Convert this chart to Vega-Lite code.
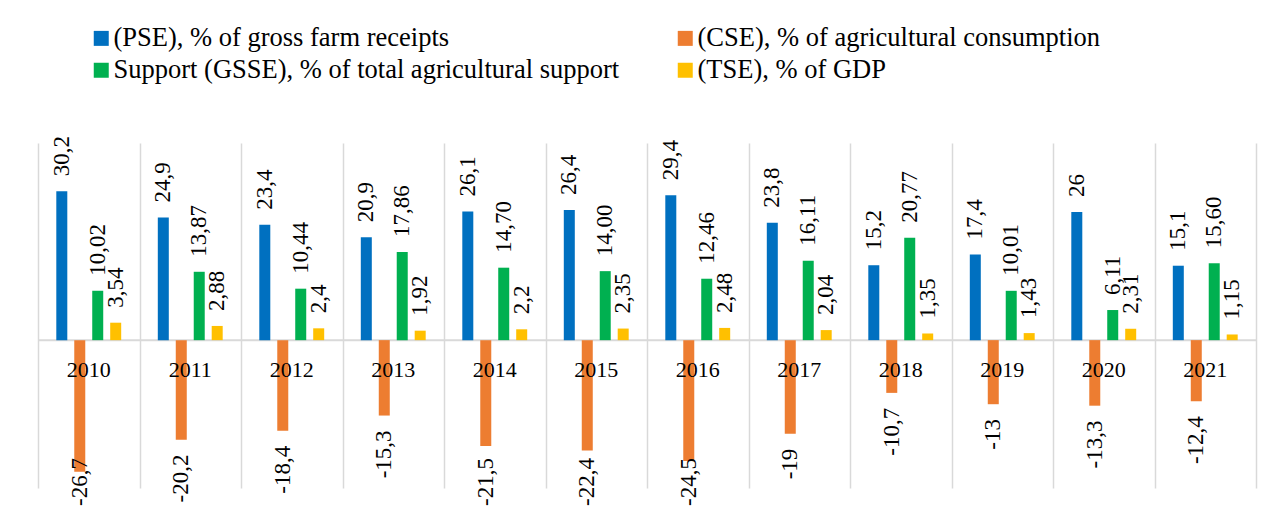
{
  "$schema": "https://vega.github.io/schema/vega-lite/v6.json",
  "width": 1218,
  "height": 345,
  "autosize": {"type": "none"},
  "padding": {"left": 38, "top": 143, "right": 23, "bottom": 24},
  "background": "white",
  "config": {"view": {"stroke": null}, "font": "Liberation Serif"},
  "resolve": {"scale": {"y": "independent"}},
  "datasets": {
    "main": [
      {"year": "2010", "s": "PSE", "value": 30.2, "label": "30,2"},
      {"year": "2010", "s": "CSE", "value": -26.7, "label": "-26,7"},
      {"year": "2010", "s": "GSSE", "value": 10.02, "label": "10,02"},
      {"year": "2010", "s": "TSE", "value": 3.54, "label": "3,54"},
      {"year": "2011", "s": "PSE", "value": 24.9, "label": "24,9"},
      {"year": "2011", "s": "CSE", "value": -20.2, "label": "-20,2"},
      {"year": "2011", "s": "GSSE", "value": 13.87, "label": "13,87"},
      {"year": "2011", "s": "TSE", "value": 2.88, "label": "2,88"},
      {"year": "2012", "s": "PSE", "value": 23.4, "label": "23,4"},
      {"year": "2012", "s": "CSE", "value": -18.4, "label": "-18,4"},
      {"year": "2012", "s": "GSSE", "value": 10.44, "label": "10,44"},
      {"year": "2012", "s": "TSE", "value": 2.4, "label": "2,4"},
      {"year": "2013", "s": "PSE", "value": 20.9, "label": "20,9"},
      {"year": "2013", "s": "CSE", "value": -15.3, "label": "-15,3"},
      {"year": "2013", "s": "GSSE", "value": 17.86, "label": "17,86"},
      {"year": "2013", "s": "TSE", "value": 1.92, "label": "1,92"},
      {"year": "2014", "s": "PSE", "value": 26.1, "label": "26,1"},
      {"year": "2014", "s": "CSE", "value": -21.5, "label": "-21,5"},
      {"year": "2014", "s": "GSSE", "value": 14.70, "label": "14,70"},
      {"year": "2014", "s": "TSE", "value": 2.2, "label": "2,2"},
      {"year": "2015", "s": "PSE", "value": 26.4, "label": "26,4"},
      {"year": "2015", "s": "CSE", "value": -22.4, "label": "-22,4"},
      {"year": "2015", "s": "GSSE", "value": 14.00, "label": "14,00"},
      {"year": "2015", "s": "TSE", "value": 2.35, "label": "2,35"},
      {"year": "2016", "s": "PSE", "value": 29.4, "label": "29,4"},
      {"year": "2016", "s": "CSE", "value": -24.5, "label": "-24,5"},
      {"year": "2016", "s": "GSSE", "value": 12.46, "label": "12,46"},
      {"year": "2016", "s": "TSE", "value": 2.48, "label": "2,48"},
      {"year": "2017", "s": "PSE", "value": 23.8, "label": "23,8"},
      {"year": "2017", "s": "CSE", "value": -19, "label": "-19"},
      {"year": "2017", "s": "GSSE", "value": 16.11, "label": "16,11"},
      {"year": "2017", "s": "TSE", "value": 2.04, "label": "2,04"},
      {"year": "2018", "s": "PSE", "value": 15.2, "label": "15,2"},
      {"year": "2018", "s": "CSE", "value": -10.7, "label": "-10,7"},
      {"year": "2018", "s": "GSSE", "value": 20.77, "label": "20,77"},
      {"year": "2018", "s": "TSE", "value": 1.35, "label": "1,35"},
      {"year": "2019", "s": "PSE", "value": 17.4, "label": "17,4"},
      {"year": "2019", "s": "CSE", "value": -13, "label": "-13"},
      {"year": "2019", "s": "GSSE", "value": 10.01, "label": "10,01"},
      {"year": "2019", "s": "TSE", "value": 1.43, "label": "1,43"},
      {"year": "2020", "s": "PSE", "value": 26, "label": "26"},
      {"year": "2020", "s": "CSE", "value": -13.3, "label": "-13,3"},
      {"year": "2020", "s": "GSSE", "value": 6.11, "label": "6,11"},
      {"year": "2020", "s": "TSE", "value": 2.31, "label": "2,31"},
      {"year": "2021", "s": "PSE", "value": 15.1, "label": "15,1"},
      {"year": "2021", "s": "CSE", "value": -12.4, "label": "-12,4"},
      {"year": "2021", "s": "GSSE", "value": 15.60, "label": "15,60"},
      {"year": "2021", "s": "TSE", "value": 1.15, "label": "1,15"}
    ]
  },
  "data": {"name": "main"},
  "layer": [
    {
      "data": {"values": [{"zero": 0}]},
      "mark": {"type": "rule", "color": "#d9d9d9", "strokeWidth": 2},
      "encoding": {"y": {"field": "zero", "type": "quantitative", "scale": {"domain": [-30, 40]}, "axis": null}}
    },
    {
      "mark": {"type": "bar", "width": 11},
      "encoding": {
        "x": {"field": "year", "type": "nominal", "scale": {"paddingInner": 0, "paddingOuter": 0},
              "axis": {"title": null, "labels": false, "ticks": false, "domain": false, "grid": true, "tickBand": "extent", "gridColor": "#d9d9d9", "gridWidth": 1.5}},
        "xOffset": {"field": "s", "type": "nominal", "scale": {"domain": ["PSE", "CSE", "GSSE", "TSE"], "paddingInner": 0.35, "paddingOuter": 1.16}},
        "y": {"field": "value", "type": "quantitative", "scale": {"domain": [-30, 40]}, "axis": null},
        "color": {"field": "s", "type": "nominal",
          "scale": {"domain": ["PSE", "GSSE", "CSE", "TSE"], "range": ["#0070C0", "#00B050", "#ED7D31", "#FFC000"]},
          "legend": {"orient": "none", "legendX": 50, "legendY": -118, "columns": 2, "columnPadding": 52, "rowPadding": 5,
            "symbolType": "square", "symbolSize": 225, "symbolStrokeWidth": 0, "symbolOpacity": 1,
            "labelFont": "Liberation Serif", "labelFontSize": 26.5, "labelColor": "black", "labelOffset": -1, "labelLimit": 0,
            "title": null, "padding": 0,
            "labelExpr": "{'PSE': '(PSE), % of gross farm receipts', 'CSE': '(CSE), % of agricultural consumption', 'GSSE': 'Support (GSSE), % of total agricultural support', 'TSE': '(TSE), % of GDP'}[datum.value]"}}
      }
    },
    {
      "transform": [{"filter": "datum.s == 'PSE'"}],
      "mark": {"type": "text", "font": "Liberation Serif", "fontSize": 22, "color": "black", "baseline": "alphabetic", "dy": 37},
      "encoding": {
        "x": {"field": "year", "type": "nominal"},
        "y": {"datum": 0, "type": "quantitative", "scale": {"domain": [-30, 40]}, "axis": null},
        "text": {"field": "year"}
      }
    },
    {
      "transform": [{"filter": "datum.value >= 0"}],
      "mark": {"type": "text", "font": "Liberation Serif", "fontSize": 23, "color": "black", "angle": 270, "align": "left", "baseline": "middle", "dx": 15},
      "encoding": {
        "x": {"field": "year", "type": "nominal"},
        "xOffset": {"field": "s", "type": "nominal"},
        "y": {"field": "value", "type": "quantitative", "scale": {"domain": [-30, 40]}, "axis": null},
        "text": {"field": "label"}
      }
    },
    {
      "transform": [{"filter": "datum.value < 0"}],
      "mark": {"type": "text", "font": "Liberation Serif", "fontSize": 23, "color": "black", "angle": 270, "align": "right", "baseline": "middle", "dx": -15},
      "encoding": {
        "x": {"field": "year", "type": "nominal"},
        "xOffset": {"field": "s", "type": "nominal"},
        "y": {"field": "value", "type": "quantitative", "scale": {"domain": [-20.9, 40], "range": [300.03, 0], "clamp": true}, "axis": null},
        "text": {"field": "label"}
      }
    }
  ]
}
